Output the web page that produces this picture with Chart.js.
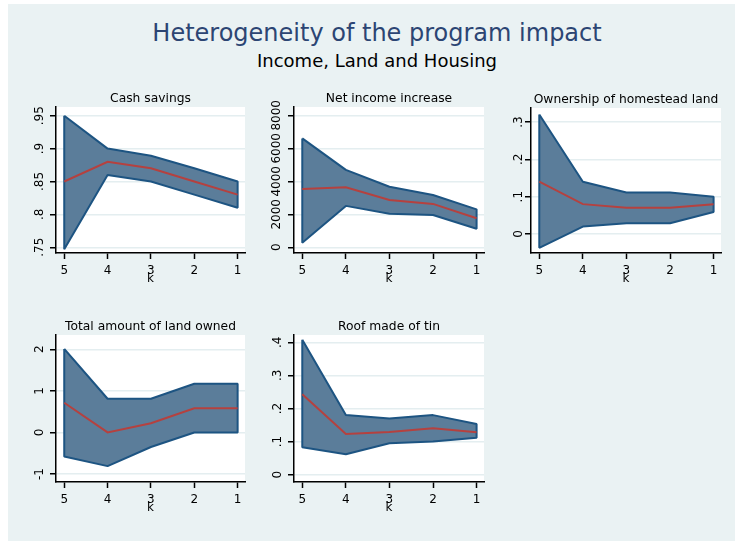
<!DOCTYPE html>
<html>
<head>
<meta charset="utf-8">
<script src="https://cdn.jsdelivr.net/npm/chart.js@4.4.1/dist/chart.umd.min.js"></script>
<style>
  html, body { margin: 0; padding: 0; background: #ffffff; width: 735px; height: 541px; overflow: hidden; }
  #cut { position: absolute; left: 0; top: -17.6px; width: 735px; text-align: center; white-space: nowrap;
         font: bold 16.5px/20px "DejaVu Sans", sans-serif; color: #111; }
  #bg { position: absolute; left: 8px; top: 4px; width: 727px; height: 537px; background: #eaf2f3; }
  #title { position: absolute; left: 0; top: 18.7px; width: 754px; text-align: center;
           font: 24px/28px "DejaVu Sans", sans-serif; color: #2c4573; }
  #subtitle { position: absolute; left: 0; top: 49.8px; width: 754px; text-align: center;
              font: 18px/22px "DejaVu Sans", sans-serif; color: #000; }
  canvas { position: absolute; }
</style>
</head>
<body>
<div id="cut">Figure 5: Heterogeneity of the program impact, by methodology</div>
<div id="bg"></div>
<div id="title">Heterogeneity of the program impact</div>
<div id="subtitle">Income, Land and Housing</div>

<script>
// Horizon k, shown from 5 down to 1
const kSteps = [5, 4, 3, 2, 1];
const kLabels = ['5', '4', '3', '2', '1'];

// Cash savings
const cashUpper    = [0.950, 0.900, 0.889, 0.870, 0.850];
const cashLower    = [0.747, 0.860, 0.850, 0.830, 0.810];
const cashEstimate = [0.850, 0.880, 0.870, 0.850, 0.830];
const cashTicks      = [0.75, 0.80, 0.85, 0.90, 0.95];
const cashTickLabels = ['.75', '.8', '.85', '.9', '.95'];

// Net income increase
const incomeUpper    = [6600, 4690, 3670, 3170, 2300];
const incomeLower    = [280, 2510, 2040, 1960, 1120];
const incomeEstimate = [3540, 3640, 2870, 2630, 1760];
const incomeTicks      = [0, 2000, 4000, 6000, 8000];
const incomeTickLabels = ['0', '2000', '4000', '6000', '8000'];

// Ownership of homestead land
const homesteadUpper    = [0.320, 0.140, 0.111, 0.111, 0.100];
const homesteadLower    = [-0.037, 0.020, 0.029, 0.029, 0.059];
const homesteadEstimate = [0.140, 0.080, 0.070, 0.070, 0.080];
const homesteadTicks      = [0, 0.1, 0.2, 0.3];
const homesteadTickLabels = ['0', '.1', '.2', '.3'];

// Total amount of land owned
const landUpper    = [2.01, 0.81, 0.81, 1.17, 1.17];
const landLower    = [-0.58, -0.81, -0.35, 0.00, 0.00];
const landEstimate = [0.715, 0.00, 0.22, 0.58, 0.58];
const landTicks      = [-1, 0, 1, 2];
const landTickLabels = ['-1', '0', '1', '2'];

// Roof made of tin
const roofUpper    = [0.408, 0.180, 0.170, 0.180, 0.153];
const roofLower    = [0.083, 0.062, 0.095, 0.100, 0.112];
const roofEstimate = [0.243, 0.123, 0.129, 0.140, 0.128];
const roofTicks      = [0, 0.1, 0.2, 0.3, 0.4];
const roofTickLabels = ['0', '.1', '.2', '.3', '.4'];

const FONT = '"DejaVu Sans", sans-serif';
const BAND_FILL = '#5b7d9a';
const BAND_EDGE = '#1d5482';
const EST_COLOR = '#b5413f';

// Plot-region placement on the page (left, top, right, bottom) and y-range per panel
const panels = [
  { title: 'Cash savings', upper: cashUpper, lower: cashLower, est: cashEstimate,
    ticks: cashTicks, tickLabels: cashTickLabels, ymin: 0.7413, ymax: 0.9632,
    box: [56, 107, 245, 253], gap: 16 },
  { title: 'Net income increase', upper: incomeUpper, lower: incomeLower, est: incomeEstimate,
    ticks: incomeTicks, tickLabels: incomeTickLabels, ymin: -345, ymax: 8503,
    box: [294, 107, 484, 253], gap: 17 },
  { title: 'Ownership of homestead land', upper: homesteadUpper, lower: homesteadLower, est: homesteadEstimate,
    ticks: homesteadTicks, tickLabels: homesteadTickLabels, ymin: -0.0509, ymax: 0.3375,
    box: [531, 108, 721, 253], gap: 12 },
  { title: 'Total amount of land owned', upper: landUpper, lower: landLower, est: landEstimate,
    ticks: landTicks, tickLabels: landTickLabels, ymin: -1.192, ymax: 2.344,
    box: [56, 335, 245, 482], gap: 16 },
  { title: 'Roof made of tin', upper: roofUpper, lower: roofLower, est: roofEstimate,
    ticks: roofTicks, tickLabels: roofTickLabels, ymin: -0.022, ymax: 0.422,
    box: [294, 335, 484, 482], gap: 16 }
];

const Y_AXIS_W = 50, TOP_PAD = 25, RIGHT_PAD = 6, X_AXIS_H = 36;

panels.forEach((p) => {
  const [l, t, r, b] = p.box;
  const canvas = document.createElement('canvas');
  canvas.width = Y_AXIS_W + (r - l) + RIGHT_PAD;
  canvas.height = TOP_PAD + (b - t) + X_AXIS_H;
  canvas.style.left = (l - Y_AXIS_W) + 'px';
  canvas.style.top = (t - TOP_PAD) + 'px';
  canvas.style.width = canvas.width + 'px';
  canvas.style.height = canvas.height + 'px';
  document.body.appendChild(canvas);

  // Confidence band as one closed outline: upper edge 5→1, then lower edge 1→5
  const band = [];
  kSteps.forEach((k, i) => band.push({ x: k, y: p.upper[i] }));
  for (let i = kSteps.length - 1; i >= 0; i--) band.push({ x: kSteps[i], y: p.lower[i] });
  band.push({ x: kSteps[0], y: p.upper[0] });

  const estimate = kSteps.map((k, i) => ({ x: k, y: p.est[i] }));

  const plotBackground = {
    id: 'plotBackground',
    beforeDraw(chart) {
      const a = chart.chartArea, ctx = chart.ctx;
      ctx.save();
      ctx.fillStyle = '#ffffff';
      ctx.fillRect(a.left, a.top, a.right - a.left, a.bottom - a.top);
      ctx.restore();
    }
  };

  const panelTitle = {
    id: 'panelTitle',
    afterDraw(chart) {
      const a = chart.chartArea, ctx = chart.ctx;
      ctx.save();
      ctx.fillStyle = '#000';
      ctx.font = '12.3px ' + FONT;
      ctx.textAlign = 'center';
      ctx.textBaseline = 'alphabetic';
      ctx.fillText(p.title, (a.left + a.right) / 2, a.top - 5.5);
      ctx.restore();
    }
  };

  // Stata-style y tick labels, turned to read bottom-to-top
  const verticalTickLabels = {
    id: 'verticalTickLabels',
    afterDraw(chart) {
      const s = chart.scales.y, ctx = chart.ctx;
      ctx.save();
      ctx.fillStyle = '#000';
      ctx.font = '12px ' + FONT;
      ctx.textAlign = 'center';
      ctx.textBaseline = 'middle';
      s.ticks.forEach((tk, i) => {
        ctx.save();
        ctx.translate(chart.chartArea.left - p.gap, s.getPixelForValue(tk.value));
        ctx.rotate(-Math.PI / 2);
        ctx.fillText(p.tickLabels[i], 0, 0);
        ctx.restore();
      });
      ctx.restore();
    }
  };

  new Chart(canvas, {
    type: 'line',
    data: {
      datasets: [
        { data: estimate, borderColor: EST_COLOR, borderWidth: 2, pointRadius: 0,
          tension: 0, fill: false },
        { data: band, borderColor: BAND_EDGE, borderWidth: 2, backgroundColor: BAND_FILL,
          pointRadius: 0, tension: 0, fill: 'shape', borderJoinStyle: 'bevel' }
      ]
    },
    options: {
      responsive: false,
      animation: false,
      events: [],
      layout: { padding: { left: 0, top: TOP_PAD, right: RIGHT_PAD, bottom: 0 } },
      plugins: { legend: { display: false }, tooltip: { enabled: false }, title: { display: false } },
      scales: {
        x: {
          type: 'linear', reverse: true, min: 0.83, max: 5.19,
          afterBuildTicks: s => { s.ticks = kSteps.map(v => ({ value: v })); },
          afterFit: s => { s.height = X_AXIS_H; },
          ticks: { color: '#000', font: { family: FONT, size: 12 }, padding: 5,
                   maxRotation: 0, minRotation: 0, autoSkip: false,
                   callback: (v, i) => kLabels[i] },
          grid: { drawOnChartArea: false, drawTicks: true, tickLength: 6, tickColor: '#000', tickWidth: 1.5 },
          border: { display: true, color: '#000', width: 1.5 },
          title: { display: true, text: 'k', color: '#000', font: { family: FONT, size: 12 },
                   padding: { top: 0, bottom: 3 } }
        },
        y: {
          type: 'linear', min: p.ymin, max: p.ymax,
          afterBuildTicks: s => { s.ticks = p.ticks.map(v => ({ value: v })); },
          afterFit: s => { s.width = Y_AXIS_W; },
          ticks: { display: false },
          grid: { color: '#e4eef0', lineWidth: 1.5, drawTicks: true, tickLength: 6,
                  tickColor: '#000', tickWidth: 1.5 },
          border: { display: true, color: '#000', width: 1.5 }
        }
      }
    },
    plugins: [plotBackground, panelTitle, verticalTickLabels]
  });
});
</script>
</body>
</html>
